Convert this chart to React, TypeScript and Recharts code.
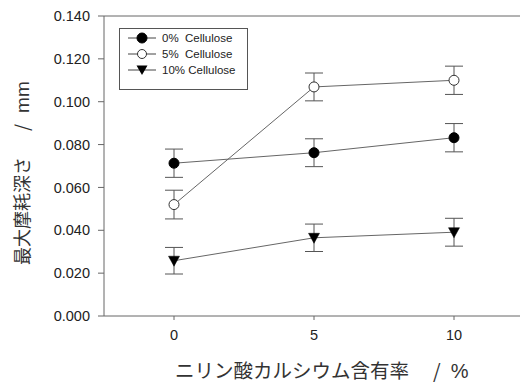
import React from 'react';
import { LineChart, Line, XAxis, YAxis, ErrorBar, ReferenceLine, Legend } from 'recharts';

const xValues = [0, 5, 10];
const cell0 = [0.0713, 0.0762, 0.0832];
const err0 = [0.0066, 0.0065, 0.0066];
const cell5 = [0.052, 0.1069, 0.11];
const err5 = [0.0067, 0.0065, 0.0066];
const cell10 = [0.0258, 0.0365, 0.0391];
const err10 = [0.0062, 0.0064, 0.0065];
const yTicks = [0, 0.02, 0.04, 0.06, 0.08, 0.1, 0.12, 0.14];
const xTicks = [0, 5, 10];
const seriesNames = ['0%  Cellulose', '5%  Cellulose', '10% Cellulose'];
const xLabelParts = ['ニリン酸カルシウム含有率', '/', '%'];
const yLabelParts = ['最大摩耗深さ', '/', 'mm'];

const data = xValues.map((x, i) => ({
  x,
  c0: cell0[i], e0: err0[i],
  c5: cell5[i], e5: err5[i],
  c10: cell10[i], e10: err10[i],
}));

const FONT = '"Liberation Sans", Arial, "Noto Sans CJK JP", sans-serif';
const JFONT = '"Noto Sans CJK JP", "Liberation Sans", sans-serif';
const AXIS = '#666';
const LINE = '#666';

const FilledDot = (p: any) => {
  if (p.cx == null || p.cy == null) return null;
  return <circle key={p.index} cx={p.cx} cy={p.cy} r={5} fill="#000" stroke="#000" strokeWidth={1} />;
};
const OpenDot = (p: any) => {
  if (p.cx == null || p.cy == null) return null;
  return <circle key={p.index} cx={p.cx} cy={p.cy} r={5} fill="#fff" stroke="#333" strokeWidth={1} />;
};
const TriDot = (p: any) => {
  if (p.cx == null || p.cy == null) return null;
  const { cx, cy } = p;
  return (
    <path
      key={p.index}
      d={`M${cx - 5.5},${cy - 4.5} L${cx + 5.5},${cy - 4.5} L${cx},${cy + 5.5} Z`}
      fill="#000"
      stroke="#000"
      strokeWidth={0.5}
    />
  );
};

const LegendBox = () => {
  const icons = [
    <circle cx={14} cy={6} r={5} fill="#000" stroke="#000" />,
    <circle cx={14} cy={6} r={4.5} fill="#fff" stroke="#333" />,
    <path d="M8.5,1.5 L19.5,1.5 L14,11 Z" fill="#000" />,
  ];
  return (
    <div
      style={{
        position: 'absolute',
        left: 119,
        top: 28,
        width: 127,
        height: 60,
        border: '1px solid #555',
        background: '#fff',
        boxSizing: 'content-box',
      }}
    >
      {seriesNames.map((n, i) => (
        <div
          key={n}
          style={{
            position: 'absolute',
            left: 8,
            top: 9 + i * 16 - 6,
            height: 12,
            display: 'flex',
            alignItems: 'center',
            whiteSpace: 'pre',
          }}
        >
          <svg width={28} height={12} style={{ display: 'block' }}>
            <line x1={0} y1={6} x2={28} y2={6} stroke="#444" strokeWidth={1} />
            {icons[i]}
          </svg>
          <span
            style={{
              marginLeft: 6,
              fontFamily: FONT,
              fontSize: 11.5,
              color: '#222',
              lineHeight: '12px',
            }}
          >
            {n}
          </span>
        </div>
      ))}
    </div>
  );
};

export default function App() {
  return (
    <div
      style={{
        position: 'absolute',
        left: 0,
        top: 0,
        width: 520,
        height: 383,
        overflow: 'hidden',
        background: '#fff',
      }}
    >
      <LineChart
        width={540}
        height={383}
        data={data}
        margin={{ top: 16, right: 16, bottom: 0, left: 44 }}
      >
        <XAxis
          dataKey="x"
          type="number"
          domain={[-2.5, 12.5]}
          ticks={xTicks}
          allowDataOverflow
          stroke={AXIS}
          tickSize={4}
          tickMargin={10}
          height={67}
          tick={{ fontFamily: FONT, fontSize: 14.5, fill: '#222' }}
          label={{
            content: () => (
              <text
                x={175}
                y={378}
                textAnchor="start"
                fontFamily={JFONT}
                fontSize={19.5}
                fill="#333"
              >
                <tspan>{xLabelParts[0]}</tspan>
                <tspan dx={24}>{xLabelParts[1]}</tspan>
                <tspan dx={10} fontFamily={FONT} fontSize={20}>{xLabelParts[2]}</tspan>
              </text>
            ),
          }}
        />
        <YAxis
          type="number"
          domain={[0, 0.14]}
          ticks={yTicks}
          allowDataOverflow
          stroke={AXIS}
          tickSize={6}
          tickMargin={8}
          width={60}
          tickFormatter={(v: number) => v.toFixed(3)}
          tick={{ fontFamily: FONT, fontSize: 14.5, fill: '#222' }}
          label={{
            content: () => (
              <text
                x={0}
                y={0}
                transform="translate(29,265) rotate(-90)"
                textAnchor="start"
                fontFamily={JFONT}
                fontSize={18}
                fill="#333"
              >
                <tspan>{yLabelParts[0]}</tspan>
                <tspan dx={26}>{yLabelParts[1]}</tspan>
                <tspan dx={11} fontFamily={FONT} fontSize={19}>{yLabelParts[2]}</tspan>
              </text>
            ),
          }}
        />
        <ReferenceLine y={0.14} stroke={AXIS} strokeWidth={1} />
        <Legend content={() => <LegendBox />} wrapperStyle={{ position: 'absolute', left: 0, top: 0, width: 0, height: 0 }} />
        <Line
          dataKey="c0"
          stroke={LINE}
          strokeWidth={1}
          dot={FilledDot}
          activeDot={false}
          isAnimationActive={false}
        >
          <ErrorBar dataKey="e0" width={9} stroke="#555" strokeWidth={1} direction="y" isAnimationActive={false} />
        </Line>
        <Line
          dataKey="c5"
          stroke={LINE}
          strokeWidth={1}
          dot={OpenDot}
          activeDot={false}
          isAnimationActive={false}
        >
          <ErrorBar dataKey="e5" width={9} stroke="#555" strokeWidth={1} direction="y" isAnimationActive={false} />
        </Line>
        <Line
          dataKey="c10"
          stroke={LINE}
          strokeWidth={1}
          dot={TriDot}
          activeDot={false}
          isAnimationActive={false}
        >
          <ErrorBar dataKey="e10" width={9} stroke="#555" strokeWidth={1} direction="y" isAnimationActive={false} />
        </Line>
      </LineChart>
    </div>
  );
}
